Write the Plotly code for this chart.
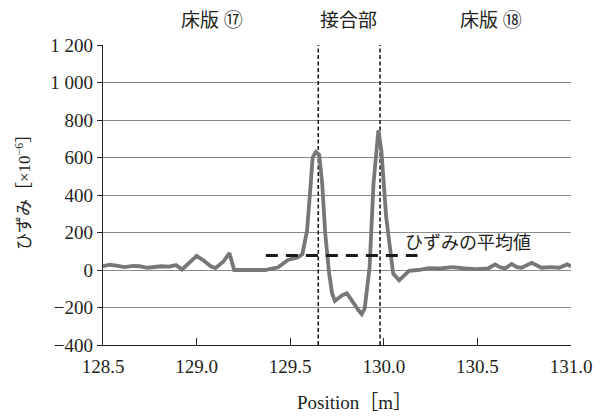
import plotly.graph_objects as go

# ---- data ----
position = [128.500, 128.537, 128.579, 128.616, 128.658, 128.695, 128.737, 128.774,
            128.811, 128.853, 128.890, 128.922, 128.959, 129.000, 129.038, 129.075,
            129.101, 129.143, 129.175, 129.201, 129.250, 129.300, 129.350, 129.370,
            129.400, 129.434, 129.490, 129.540, 129.565, 129.590, 129.605, 129.620,
            129.637, 129.655, 129.671, 129.687, 129.708, 129.724, 129.739, 129.760,
            129.776, 129.803, 129.825, 129.845, 129.865, 129.882, 129.898, 129.924,
            129.945, 129.971, 129.987, 130.013, 130.050, 130.082, 130.119, 130.135,
            130.183, 130.240, 130.300, 130.367, 130.436, 130.490, 130.557, 130.594,
            130.620, 130.647, 130.683, 130.710, 130.736, 130.790, 130.842, 130.894,
            130.937, 130.979, 131.000]
strain = [20, 28, 22, 15, 22, 20, 12, 15,
          20, 18, 26, 3, 35, 75, 50, 20,
          10, 45, 90, 0, 0, 0, 0, 0,
          8, 13, 55, 67, 85, 210, 400, 600,
          630, 615, 460, 195, -19, -125, -165, -150,
          -136, -125, -160, -190, -215, -235, -205, 13,
          461, 745, 637, 280, -19, -55, -15, -5,
          0, 10, 8, 15, 8, 5, 8, 30,
          15, 8, 32, 15, 12, 38, 12, 15,
          12, 30, 20]

joint_positions = [129.65, 129.98]
mean_start, mean_end, mean_value = 129.37, 130.18, 78

y_tickvals = [-400, -200, 0, 200, 400, 600, 800, 1000, 1200]
y_ticktext = ["−400", "−200", "0", "200", "400", "600", "800", "1 000", "1 200"]
x_tickvals = [128.5, 129.0, 129.5, 130.0, 130.5, 131.0]
x_ticktext = ["128.5", "129.0", "129.5", "130.0", "130.5", "131.0"]

section_labels = ["床版 ⑰", "接合部", "床版 ⑱"]
section_x = [0.232, 0.525, 0.829]

FONT = "Liberation Serif, Noto Sans CJK JP, serif"
TXT = "#231f20"

fig = go.Figure()

# joint dashed vertical lines
for jp in joint_positions:
    fig.add_trace(go.Scatter(x=[jp, jp], y=[-400, 1200], mode="lines",
                             line=dict(color="#111111", width=1.5, dash="4px,2.5px"),
                             hoverinfo="skip", showlegend=False))

# strain line
fig.add_trace(go.Scatter(x=position, y=strain, mode="lines",
                         line=dict(color="#777777", width=3.8),
                         showlegend=False))

# mean line
fig.add_trace(go.Scatter(x=[mean_start, mean_end], y=[mean_value, mean_value], mode="lines",
                         line=dict(color="#1a1a1a", width=3, dash="12px,8px"),
                         showlegend=False))

tick_font = dict(family=FONT, size=19, color=TXT)

# page body has an 8px margin, so the figure is 8px smaller than the window
fig.update_layout(
    width=596, height=409,
    margin=dict(l=95, r=27, t=37, b=72),
    paper_bgcolor="white", plot_bgcolor="white",
    font=dict(family=FONT, size=19, color=TXT),
    xaxis=dict(range=[128.5, 131.0], tickvals=x_tickvals, ticktext=x_ticktext,
               tickfont=tick_font,
               showgrid=False, zeroline=False, showline=True, linecolor="#222",
               linewidth=1.3, ticks="inside", ticklen=7, tickcolor="#222",
               tickwidth=1.2, ticklabelstandoff=4),
    yaxis=dict(range=[-400, 1200], tickvals=y_tickvals, ticktext=y_ticktext,
               tickfont=tick_font,
               showgrid=True, gridcolor="#8a8a8a", gridwidth=1.3, zeroline=False,
               showline=True, linecolor="#222", linewidth=1.3, ticks="outside",
               ticklen=5, tickcolor="#222", tickwidth=1.2),
)

annotations = []
for lab, sx in zip(section_labels, section_x):
    annotations.append(dict(text=lab, x=sx, y=(345 - 20) / 300, xref="paper", yref="paper",
                            showarrow=False, xanchor="center", yanchor="middle",
                            font=dict(size=19, family=FONT, color=TXT)))
annotations.append(dict(text="ひずみの平均値", x=(407 - 103) / 474, y=(345 - 243) / 300,
                        xref="paper", yref="paper", showarrow=False,
                        xanchor="left", yanchor="middle",
                        font=dict(size=18, family=FONT, color=TXT)))
annotations.append(dict(text="Position［m］", x=(358 - 103) / 474, y=(345 - 402) / 300,
                        xref="paper", yref="paper", showarrow=False,
                        xanchor="center", yanchor="middle",
                        font=dict(size=19, family=FONT, color=TXT)))
annotations.append(dict(text="ひずみ［×10<sup>−6</sup>］", x=(22 - 103) / 474, y=(345 - 188) / 300,
                        xref="paper", yref="paper", showarrow=False, textangle=-90,
                        xanchor="center", yanchor="middle",
                        font=dict(size=17, family=FONT, color=TXT)))
fig.update_layout(annotations=annotations)

fig.write_html("out.html")
